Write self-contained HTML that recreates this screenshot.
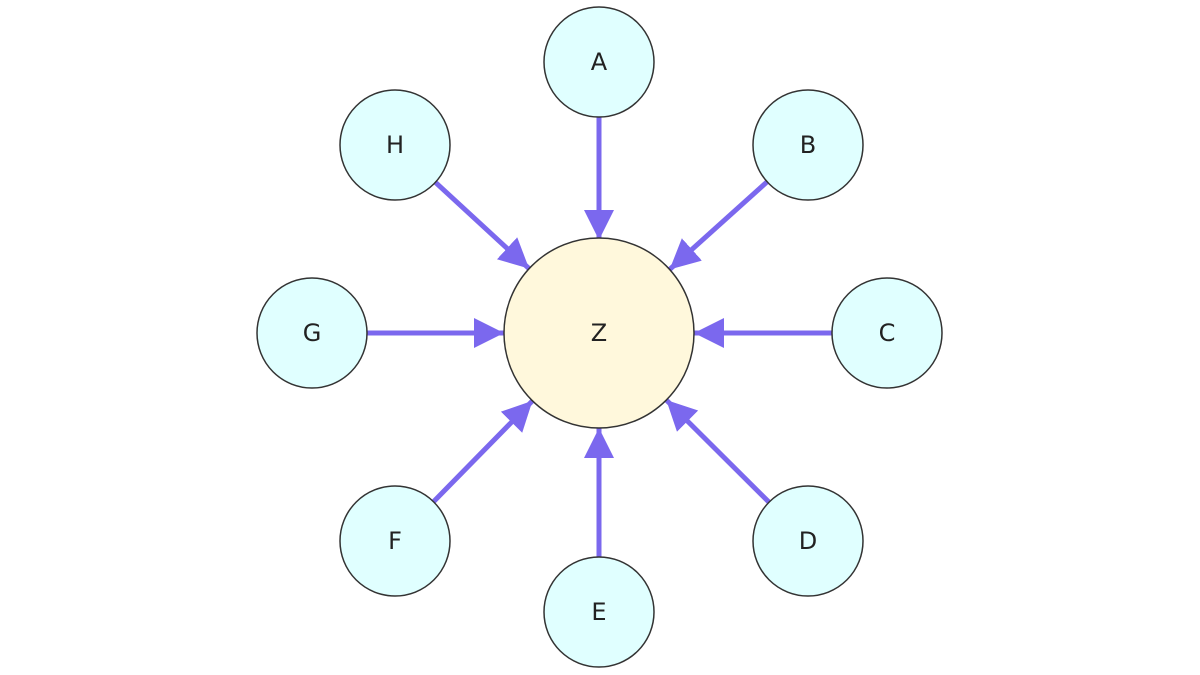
<!DOCTYPE html>
<html><head><meta charset="utf-8"><style>
html,body{margin:0;padding:0;background:#fff;}
svg{display:block;}
text{font-family:"DejaVu Sans","Liberation Sans",sans-serif;font-size:24px;fill:#222;text-anchor:middle;dominant-baseline:central;}
</style></head><body>
<svg width="1200" height="675" viewBox="0 0 1200 675" xmlns="http://www.w3.org/2000/svg">
<defs>
<marker id="ah" markerUnits="userSpaceOnUse" markerWidth="32" markerHeight="32" refX="30" refY="15" orient="auto">
<path d="M0,0 L30,15 L0,30 Z" fill="#7b68ee"/>
</marker>
</defs>
<g stroke="#7b68ee" stroke-width="5" marker-end="url(#ah)">
<line x1="599" y1="117" x2="599" y2="240"/>
<line x1="767.1" y1="181.8" x2="669.6" y2="269.5"/>
<line x1="832" y1="333" x2="694" y2="333"/>
<line x1="769" y1="502.2" x2="666.3" y2="400"/>
<line x1="599" y1="557" x2="599" y2="428"/>
<line x1="433.5" y1="501.7" x2="532.5" y2="400.8"/>
<line x1="367" y1="333" x2="504" y2="333"/>
<line x1="435.4" y1="182.3" x2="529.1" y2="268.6"/>
</g>
<g stroke="#333" stroke-width="1.5" fill="#e0ffff">
<circle cx="599" cy="62" r="55"/>
<circle cx="808" cy="145" r="55"/>
<circle cx="887" cy="333" r="55"/>
<circle cx="808" cy="541" r="55"/>
<circle cx="599" cy="612" r="55"/>
<circle cx="395" cy="541" r="55"/>
<circle cx="312" cy="333" r="55"/>
<circle cx="395" cy="145" r="55"/>
<circle cx="599" cy="333" r="95" fill="#fff8dc"/>
</g>
<text x="599" y="62">A</text>
<text x="808" y="145">B</text>
<text x="887" y="333">C</text>
<text x="808" y="541">D</text>
<text x="599" y="612">E</text>
<text x="395" y="541">F</text>
<text x="312" y="333">G</text>
<text x="395" y="145">H</text>
<text x="599" y="333">Z</text>
</svg>
</body></html>
